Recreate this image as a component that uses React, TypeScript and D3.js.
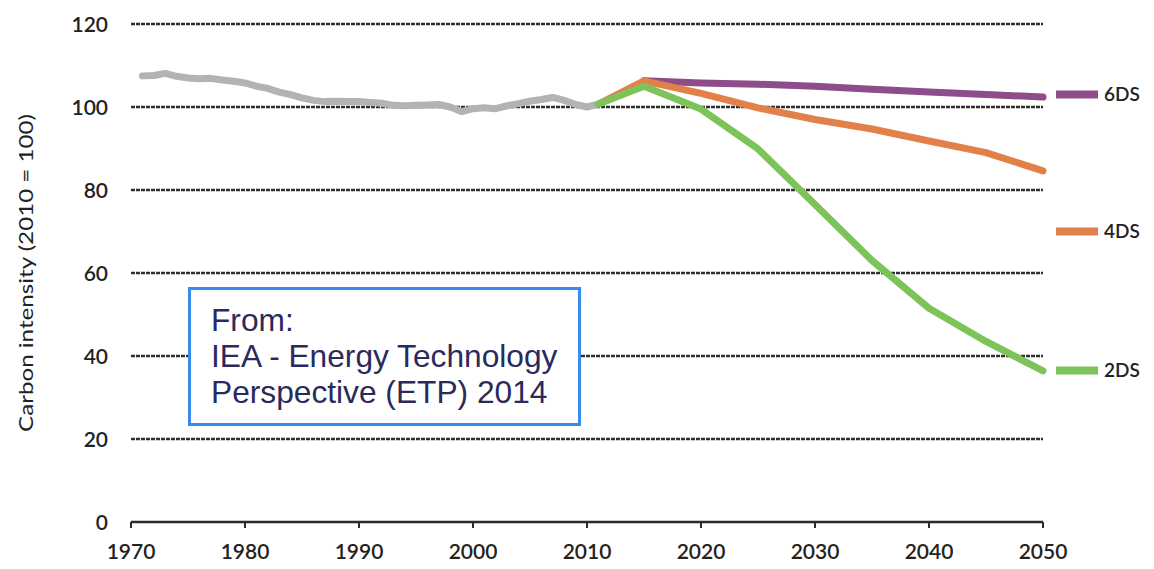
import React from "react";
import * as d3 from "d3";

const histYears = [1971,1972,1973,1974,1975,1976,1977,1978,1979,1980,1981,1982,1983,1984,1985,1986,1987,1988,1989,1990,1991,1992,1993,1994,1995,1996,1997,1998,1999,2000,2001,2002,2003,2004,2005,2006,2007,2008,2009,2010,2011];
const histValues = [107.5,107.6,108.1,107.4,107.0,106.8,106.9,106.5,106.2,105.8,105.0,104.5,103.6,103.0,102.2,101.6,101.3,101.4,101.3,101.3,101.1,100.9,100.4,100.3,100.4,100.5,100.6,100.0,98.9,99.6,99.8,99.6,100.3,100.8,101.4,101.8,102.3,101.6,100.6,100.0,100.7];

const scenYears = [2011,2015,2020,2025,2030,2035,2040,2045,2050];
const ds6 = [null,106.3,105.8,105.5,105.0,104.3,103.6,103.0,102.4];
const ds4 = [100.7,106.3,103.3,99.8,97.0,94.7,91.8,89.0,84.6];
const ds2 = [100.7,105.0,99.5,89.9,76.5,63.0,51.5,43.5,36.4];

const xTicks = [1970,1980,1990,2000,2010,2020,2030,2040,2050];
const yTicks = [0,20,40,60,80,100,120];
const gridTicks = [20,40,60,80,100,120];

const seriesNames = ["6DS","4DS","2DS"];
const seriesColors = ["#8d4c8a","#e2804a","#7cc35a"];
const legendValues = [103,70,36.5];

const yTitle = "Carbon intensity (2010 = 100)";
const noteLines = ["From:","IEA - Energy Technology","Perspective (ETP) 2014"];

export default function App() {
  const x = d3.scaleLinear().domain([1970, 2050]).range([131, 1043]);
  const y = d3.scaleLinear().domain([0, 120]).range([522, 24]);
  const line = d3
    .line<[number, number | null]>()
    .defined((d) => d[1] != null)
    .x((d) => x(d[0]))
    .y((d) => y(d[1] as number));

  const hist = line(histYears.map((yr, i) => [yr, histValues[i]]));
  const scen = [ds6, ds4, ds2].map((vals) =>
    line(scenYears.map((yr, i) => [yr, vals[i]]))
  );

  const font = "Lato, 'DejaVu Sans', sans-serif";

  return (
    <svg
      width={1154}
      height={569}
      style={{ position: "absolute", left: 0, top: 0, background: "#fff" }}
    >
      {gridTicks.map((t) => (
        <line
          key={t}
          x1={x(1970)}
          x2={x(2050)}
          y1={y(t)}
          y2={y(t)}
          stroke="#2e2e2e"
          strokeWidth={2.5}
          strokeDasharray="4 1"
        />
      ))}
      <line x1={x(1970)} x2={x(2050)} y1={y(0)} y2={y(0)} stroke="#2a2a2a" strokeWidth={2.5} />
      {xTicks.map((t) => (
        <g key={t}>
          <line x1={x(t)} x2={x(t)} y1={y(0)} y2={y(0) + 6} stroke="#2a2a2a" strokeWidth={2} />
          <text
            x={x(t)}
            y={559}
            textAnchor="middle"
            fontFamily={font}
            fontSize={21}
            fontWeight={600}
            fill="#222"
          >
            {t}
          </text>
        </g>
      ))}
      {yTicks.map((t) => (
        <text
          key={t}
          x={108}
          y={y(t)}
          dy="0.36em"
          textAnchor="end"
          fontFamily={font}
          fontSize={21}
          fontWeight={600}
          fill="#222"
        >
          {t}
        </text>
      ))}
      <text
        transform={`translate(33,${273}) rotate(-90)`}
        textAnchor="middle"
        fontFamily={font}
        fontSize={20}
        textLength={318}
        lengthAdjust="spacingAndGlyphs"
        fill="#222"
      >
        {yTitle}
      </text>

      <path d={hist || ""} fill="none" stroke="#b3b3b3" strokeWidth={7} strokeLinejoin="round" strokeLinecap="round" />
      {scen.map((d, i) => (
        <path
          key={i}
          d={d || ""}
          fill="none"
          stroke={seriesColors[i]}
          strokeWidth={7}
          strokeLinejoin="round"
          strokeLinecap="round"
        />
      ))}

      {seriesNames.map((n, i) => (
        <g key={n}>
          <line
            x1={1056}
            x2={1098}
            y1={y(legendValues[i])}
            y2={y(legendValues[i])}
            stroke={seriesColors[i]}
            strokeWidth={8}
          />
          <text
            x={1104}
            y={y(legendValues[i])}
            dy="0.36em"
            fontFamily={font}
            fontSize={19}
            fontWeight={600}
            fill="#222"
          >
            {n}
          </text>
        </g>
      ))}

      <rect x={189.5} y={288.5} width={390} height={136} fill="#fff" stroke="#3b8bef" strokeWidth={3} />
      {noteLines.map((l, i) => (
        <text
          key={i}
          x={211}
          y={331 + i * 36}
          fontFamily="'Liberation Sans', Arial, sans-serif"
          fontSize={31.7}
          fill="#2a2a5c"
        >
          {l}
        </text>
      ))}
    </svg>
  );
}
